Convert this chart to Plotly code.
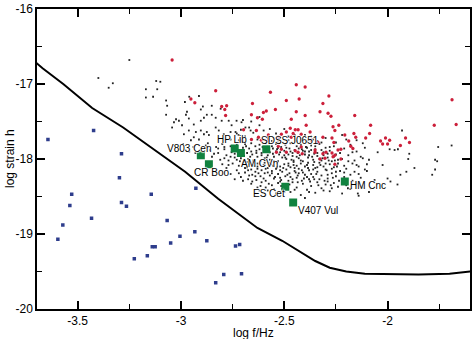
import plotly.graph_objects as go

# Detector sensitivity curve (log f/Hz, log strain h)
curve_f = [-3.70, -3.67, -3.57, -3.43, -3.28, -3.11, -2.98, -2.82, -2.63, -2.51, -2.35, -2.28, -2.20, -2.11, -1.95, -1.85, -1.70, -1.60]
curve_h = [-16.72, -16.79, -17.00, -17.32, -17.58, -17.91, -18.17, -18.53, -18.92, -19.09, -19.36, -19.45, -19.50, -19.53, -19.54, -19.54, -19.53, -19.50]

# Verification binaries (green squares)
source_names = ["V803 Cen", "CR Boo", "HP Lib", "AM CVn", "SDSS J0651", "ES Cet", "V407 Vul", "HM Cnc"]
source_f = [-2.904, -2.865, -2.740, -2.710, -2.587, -2.495, -2.457, -2.207]
source_h = [-17.95, -18.07, -17.86, -17.92, -17.87, -18.37, -18.58, -18.30]
label_f = [-2.962, -2.853, -2.752, -2.618, -2.474, -2.572, -2.337, -2.094]
label_h = [-17.855, -18.184, -17.741, -18.060, -17.750, -18.456, -18.684, -18.355]

# Blue population
blue_points = [(-3.644, -17.74), (-3.423, -17.62), (-3.288, -17.93), (-3.298, -18.25), (-3.529, -18.47),
               (-3.538, -18.62), (-3.572, -18.88), (-3.596, -19.07), (-3.433, -18.79), (-3.288, -18.58),
               (-3.264, -18.63), (-3.144, -18.47), (-3.226, -19.33), (-3.163, -19.29), (-3.139, -19.17),
               (-3.125, -19.17), (-2.928, -18.39), (-3.067, -18.82), (-3.050, -19.12), (-3.005, -19.03),
               (-2.933, -18.97), (-2.875, -19.09), (-2.736, -19.16), (-2.716, -19.14), (-2.793, -19.54),
               (-2.707, -19.53), (-2.832, -19.65)]

# Red population (resolved)
red_points = [(-3.043, -16.68), (-2.952, -17.20), (-2.933, -17.25), (-2.832, -17.09), (-2.803, -17.30),
              (-2.788, -17.34), (-2.779, -17.29), (-2.784, -17.42), (-2.697, -17.61), (-2.654, -17.26),
              (-2.659, -17.41), (-2.630, -17.45), (-2.601, -17.38), (-2.587, -17.36), (-2.606, -17.47),
              (-2.543, -17.34), (-2.567, -17.11), (-2.490, -17.22), (-2.442, -17.01), (-2.399, -17.04),
              (-2.428, -17.20), (-2.442, -17.37), (-2.466, -17.47), (-2.471, -17.59), (-2.447, -17.61),
              (-2.433, -17.61), (-2.490, -17.64), (-2.635, -17.62), (-2.659, -17.74), (-2.625, -17.71),
              (-2.577, -17.68), (-2.529, -17.71), (-2.514, -17.67), (-2.466, -17.71), (-2.418, -17.67),
              (-2.538, -17.91), (-2.514, -17.87), (-2.433, -17.91), (-2.413, -17.93), (-2.351, -17.91),
              (-2.284, -17.16), (-2.313, -17.26), (-2.327, -17.37), (-2.288, -17.39), (-2.274, -17.43),
              (-2.264, -17.57), (-2.255, -17.62), (-2.236, -17.55), (-2.159, -17.42), (-2.313, -17.71),
              (-2.337, -17.78), (-2.269, -17.72), (-2.260, -17.78), (-2.207, -17.68), (-2.188, -17.76),
              (-2.163, -17.66), (-2.154, -17.71), (-2.178, -17.83), (-2.168, -17.86), (-2.106, -17.72),
              (-2.087, -17.66), (-2.082, -17.55), (-2.034, -17.76), (-2.024, -17.80), (-2.010, -17.72),
              (-2.000, -17.80), (-1.990, -17.75), (-1.938, -17.82), (-1.913, -17.72), (-1.894, -17.78),
              (-1.774, -17.55), (-1.688, -17.21), (-1.668, -17.54), (-2.298, -17.91), (-2.269, -17.92),
              (-2.226, -17.87), (-2.303, -17.99), (-2.327, -18.00), (-2.240, -17.88), (-2.264, -17.97),
              (-2.226, -18.00), (-2.255, -18.07), (-2.529, -17.83), (-2.490, -17.91), (-2.447, -17.89),
              (-2.418, -17.84), (-2.351, -17.88), (-2.313, -17.93), (-2.255, -17.95), (-2.611, -17.75),
              (-2.577, -17.75), (-2.707, -17.75), (-2.370, -17.75), (-2.399, -17.42), (-2.394, -17.55),
              (-2.457, -17.66), (-2.375, -17.64)]

# Black population (unresolved)
black_points = [
    (-3.25, -16.68), (-3.40, -16.92), (-3.33, -16.99), (-3.35, -17.05), (-3.17, -17.07), (-3.17, -17.18),
    (-3.12, -16.96), (-3.10, -16.97), (-3.115, -17.07), (-3.135, -17.17), (-3.072, -17.22), (-3.067, -17.29),
    (-2.981, -17.24), (-2.913, -17.16), (-2.851, -17.29), (-2.894, -17.30), (-2.904, -17.34), (-2.971, -17.37),
    (-2.976, -17.41), (-2.962, -17.46), (-3.072, -17.41), (-3.024, -17.47), (-3.034, -17.51), (-3.010, -17.49),
    (-2.995, -17.55), (-2.938, -17.54), (-2.904, -17.49), (-2.875, -17.41), (-2.851, -17.41), (-2.889, -17.45),
    (-2.832, -17.45), (-2.808, -17.33), (-2.803, -17.49), (-2.769, -17.49), (-2.755, -17.55), (-2.731, -17.49),
    (-2.707, -17.51), (-2.688, -17.58), (-2.663, -17.62), (-3.043, -17.58), (-2.962, -17.62), (-2.928, -17.64),
    (-2.904, -17.62), (-2.889, -17.67), (-2.875, -17.64), (-2.865, -17.68), (-2.832, -17.58), (-2.817, -17.62),
    (-2.793, -17.67), (-2.760, -17.64), (-2.736, -17.64), (-2.721, -17.68), (-2.938, -17.71), (-2.913, -17.74),
    (-2.784, -17.74), (-2.760, -17.74), (-2.986, -17.67), (-2.952, -17.75), (-2.96, -17.17),
    (-2.73, -17.66), (-2.71, -17.61), (-2.69, -17.70), (-2.67, -17.58), (-2.65, -17.65), (-2.63, -17.74),
    (-2.60, -17.62), (-2.58, -17.70), (-2.56, -17.76), (-2.54, -17.66), (-2.52, -17.72), (-2.50, -17.60),
    (-2.48, -17.75), (-2.45, -17.68), (-2.42, -17.73), (-2.39, -17.77), (-2.37, -17.70), (-2.34, -17.76),
    (-2.72, -17.75), (-2.69, -17.78), (-2.62, -17.55), (-2.57, -17.60), (-2.30, -17.72), (-2.22, -17.68),
    (-2.15, -17.75), (-2.70, -17.48), (-2.66, -17.50), (-2.62, -17.44),
    (-2.99, -17.80), (-2.96, -17.90), (-2.94, -17.84), (-2.88, -17.82), (-2.86, -17.88), (-2.85, -17.97),
    (-2.83, -17.84), (-2.82, -17.92), (-2.81, -18.01), (-2.80, -17.80), (-2.79, -17.87), (-2.78, -17.95),
    (-2.77, -18.02), (-2.76, -17.83), (-2.755, -17.91), (-2.74, -17.98), (-2.73, -17.81), (-2.72, -17.88),
    (-2.715, -18.03), (-2.70, -17.85), (-2.695, -17.96), (-2.69, -17.80), (-2.68, -17.92), (-2.675, -18.00),
    (-2.67, -17.86), (-2.66, -17.79), (-2.655, -17.94), (-2.65, -18.02), (-2.64, -17.83), (-2.635, -17.89),
    (-2.63, -17.97), (-2.62, -17.81), (-2.615, -18.03), (-2.61, -17.92), (-2.60, -17.86), (-2.595, -17.99),
    (-2.59, -17.79), (-2.58, -17.95), (-2.575, -17.88), (-2.57, -18.01), (-2.56, -17.83), (-2.555, -17.93),
    (-2.55, -17.97), (-2.54, -17.80), (-2.535, -17.87), (-2.53, -18.03), (-2.52, -17.91), (-2.515, -17.84),
    (-2.51, -17.98), (-2.50, -17.89), (-2.495, -17.81), (-2.49, -18.00), (-2.48, -17.94), (-2.475, -17.86),
    (-2.47, -17.79), (-2.46, -17.96), (-2.455, -18.02), (-2.45, -17.88), (-2.44, -17.83), (-2.435, -17.92),
    (-2.43, -17.99), (-2.42, -17.81), (-2.415, -17.87), (-2.41, -18.03), (-2.40, -17.94), (-2.39, -17.85),
    (-2.385, -17.98), (-2.38, -17.90), (-2.37, -17.82), (-2.36, -18.01), (-2.355, -17.93), (-2.35, -17.87),
    (-2.34, -17.96), (-2.33, -17.80), (-2.32, -18.02), (-2.31, -17.91), (-2.30, -17.85), (-2.29, -17.98),
    (-2.28, -17.89), (-2.27, -18.03), (-2.26, -17.83), (-2.25, -17.94), (-2.24, -17.88), (-2.22, -18.00),
    (-2.21, -17.86), (-2.19, -17.95), (-2.18, -17.81), (-2.16, -18.02), (-2.15, -17.90), (-2.13, -17.97),
    (-2.11, -17.85), (-2.09, -18.01),
    (-2.80, -18.07), (-2.78, -18.12), (-2.76, -18.20), (-2.75, -18.06), (-2.73, -18.15), (-2.72, -18.09),
    (-2.71, -18.24), (-2.70, -18.05), (-2.69, -18.18), (-2.68, -18.11), (-2.675, -18.27), (-2.67, -18.07),
    (-2.66, -18.14), (-2.655, -18.21), (-2.65, -18.04), (-2.64, -18.17), (-2.635, -18.28), (-2.63, -18.10),
    (-2.62, -18.06), (-2.615, -18.23), (-2.61, -18.15), (-2.60, -18.08), (-2.595, -18.19), (-2.59, -18.29),
    (-2.58, -18.12), (-2.575, -18.05), (-2.57, -18.22), (-2.56, -18.16), (-2.555, -18.09), (-2.55, -18.26),
    (-2.54, -18.13), (-2.535, -18.05), (-2.53, -18.20), (-2.52, -18.10), (-2.515, -18.28), (-2.51, -18.17),
    (-2.50, -18.07), (-2.495, -18.23), (-2.49, -18.14), (-2.48, -18.06), (-2.475, -18.19), (-2.47, -18.11),
    (-2.46, -18.27), (-2.455, -18.04), (-2.45, -18.16), (-2.44, -18.09), (-2.435, -18.22), (-2.43, -18.13),
    (-2.42, -18.06), (-2.415, -18.29), (-2.41, -18.18), (-2.40, -18.10), (-2.39, -18.24), (-2.385, -18.05),
    (-2.38, -18.15), (-2.37, -18.20), (-2.36, -18.08), (-2.355, -18.27), (-2.35, -18.12), (-2.34, -18.17),
    (-2.33, -18.05), (-2.32, -18.22), (-2.31, -18.10), (-2.30, -18.14), (-2.29, -18.26), (-2.28, -18.07),
    (-2.27, -18.19), (-2.26, -18.11), (-2.25, -18.23), (-2.24, -18.06), (-2.23, -18.16), (-2.22, -18.28),
    (-2.21, -18.09), (-2.20, -18.13), (-2.18, -18.21), (-2.17, -18.06), (-2.16, -18.17), (-2.14, -18.10),
    (-2.13, -18.25), (-2.11, -18.14), (-2.10, -18.07),
    (-2.66, -18.33), (-2.63, -18.38), (-2.61, -18.31), (-2.58, -18.42), (-2.56, -18.35), (-2.54, -18.46),
    (-2.53, -18.32), (-2.51, -18.40), (-2.49, -18.34), (-2.47, -18.44), (-2.46, -18.31), (-2.44, -18.38),
    (-2.42, -18.48), (-2.41, -18.33), (-2.39, -18.41), (-2.37, -18.36), (-2.35, -18.45), (-2.34, -18.31),
    (-2.32, -18.39), (-2.30, -18.34), (-2.28, -18.43), (-2.26, -18.32), (-2.24, -18.37), (-2.22, -18.46),
    (-2.20, -18.35), (-2.18, -18.40), (-2.15, -18.33), (-2.12, -18.38), (-2.09, -18.44),
    (-2.14, -18.49), (-2.40, -18.52),
    (-2.79, -17.84), (-2.74, -17.93), (-2.71, -17.99), (-2.68, -18.04), (-2.66, -17.90), (-2.63, -18.06),
    (-2.61, -17.95), (-2.59, -18.13), (-2.57, -17.91), (-2.55, -18.03), (-2.53, -17.85), (-2.52, -18.15),
    (-2.50, -17.95), (-2.48, -18.09), (-2.47, -17.90), (-2.45, -18.12), (-2.44, -17.97), (-2.42, -18.02),
    (-2.41, -17.89), (-2.39, -18.08), (-2.38, -17.95), (-2.36, -18.14), (-2.35, -17.83), (-2.33, -18.00),
    (-2.32, -17.88), (-2.30, -18.06), (-2.29, -17.93), (-2.27, -18.13), (-2.26, -17.97), (-2.24, -18.01),
    (-2.23, -17.92), (-2.21, -18.18), (-2.19, -18.03), (-2.17, -17.91), (-2.15, -18.08), (-2.12, -17.99),
    (-2.10, -18.16), (-2.62, -17.87), (-2.58, -17.84),
    (-2.54, -17.90), (-2.49, -17.85), (-2.46, -17.92), (-2.43, -17.86), (-2.40, -17.90), (-2.37, -17.88),
    (-2.34, -17.92), (-2.31, -17.95), (-2.28, -17.84), (-2.64, -18.23), (-2.60, -18.26), (-2.56, -18.19),
    (-2.52, -18.25), (-2.48, -18.29), (-2.44, -18.25), (-2.40, -18.21), (-2.36, -18.24), (-2.33, -18.27),
    (-2.29, -18.21), (-2.25, -18.17), (-2.21, -18.24), (-2.17, -18.29), (-2.14, -18.20), (-2.70, -17.93),
    (-2.73, -18.01), (-2.76, -17.97), (-2.69, -18.12), (-2.72, -18.19), (-2.58, -17.72), (-2.53, -17.78),
    (-2.48, -17.70), (-2.44, -17.76), (-2.40, -17.68), (-2.36, -17.74), (-2.32, -17.78), (-2.27, -17.72),
    (-2.25, -17.78), (-2.20, -17.74), (-2.12, -17.79),
    (-2.685, -17.83), (-2.665, -17.97), (-2.645, -18.09), (-2.625, -18.19), (-2.605, -17.84), (-2.585, -17.98),
    (-2.565, -18.07), (-2.545, -18.24), (-2.525, -17.94), (-2.505, -18.12), (-2.485, -18.21), (-2.465, -18.01),
    (-2.445, -18.18), (-2.425, -17.95), (-2.405, -18.26), (-2.385, -18.12), (-2.365, -17.97), (-2.345, -18.20),
    (-2.325, -18.08), (-2.305, -18.29), (-2.285, -18.02), (-2.265, -18.25), (-2.245, -18.10), (-2.675, -18.15),
    (-2.655, -18.30), (-2.635, -17.92), (-2.615, -18.36), (-2.595, -18.05), (-2.575, -18.33), (-2.555, -17.86),
    (-2.535, -18.11), (-2.515, -18.36), (-2.495, -17.98), (-2.475, -18.34), (-2.455, -18.08), (-2.435, -18.31),
    (-2.415, -18.15), (-2.395, -17.84), (-2.375, -18.30), (-2.355, -18.04), (-2.335, -18.35), (-2.315, -17.99),
    (-2.295, -18.15), (-2.275, -18.35), (-2.255, -18.02), (-2.235, -18.29), (-2.59, -18.38), (-2.55, -18.40),
    (-2.50, -18.44), (-2.45, -18.41), (-2.38, -18.44), (-2.31, -18.42), (-2.27, -18.39), (-2.62, -18.42),
    (-2.52, -18.30), (-2.47, -18.24), (-2.43, -18.19), (-2.38, -18.27), (-2.34, -18.11), (-2.29, -18.30),
    (-2.58, -18.18), (-2.63, -18.13), (-2.67, -18.22), (-2.70, -18.29), (-2.74, -18.27), (-2.77, -18.08),
    (-2.79, -17.99), (-2.82, -17.86), (-2.84, -17.93), (-2.87, -17.79), (-2.90, -17.86), (-2.93, -17.92),
    (-1.93, -17.62), (-1.755, -17.84), (-1.76, -18.03), (-1.69, -17.82), (-1.77, -18.14), (-1.90, -18.00),
    (-1.895, -17.93), (-1.95, -17.87), (-1.99, -17.87), (-1.87, -18.12), (-1.909, -18.17), (-1.938, -18.21),
    (-1.952, -18.34), (-1.986, -18.30), (-2.00, -18.26), (-1.77, -18.01), (-1.784, -18.21), (-1.966, -17.88),
    (-2.048, -17.91), (-2.024, -18.08), (-2.063, -18.28), (-2.082, -18.39), (-2.13, -18.37), (-2.144, -18.46),
    (-2.192, -18.39)]

x_tickvals = [-3.5, -3.0, -2.5, -2.0]
x_ticktext = ["-3.5", "-3", "-2.5", "-2"]
y_tickvals = [-20, -19, -18, -17, -16]
y_ticktext = ["-20", "-19", "-18", "-17", "-16"]

FONT = "Liberation Sans, Arial, sans-serif"

fig = go.Figure()
fig.add_trace(go.Scatter(x=curve_f, y=curve_h, mode="lines", line=dict(color="black", width=2), hoverinfo="skip"))
fig.add_trace(go.Scatter(x=[p[0] for p in blue_points], y=[p[1] for p in blue_points], mode="markers",
                         marker=dict(symbol="square", size=3.5, color="#2e3d8c")))
fig.add_trace(go.Scatter(x=[p[0] for p in black_points], y=[p[1] for p in black_points], mode="markers",
                         marker=dict(symbol="square", size=1.8, color="#222222")))
fig.add_trace(go.Scatter(x=[p[0] for p in red_points], y=[p[1] for p in red_points], mode="markers",
                         marker=dict(symbol="circle", size=3.3, color="#cc1f3a")))
fig.add_trace(go.Scatter(x=source_f, y=source_h, mode="markers",
                         marker=dict(symbol="square", size=8, color="#10823f")))

halo = "1px 0 1px white, -1px 0 1px white, 0 1px 1px white, 0 -1px 1px white"
for name, lf, lh in zip(source_names, label_f, label_h):
    fig.add_annotation(x=lf, y=lh, text=name, showarrow=False, xanchor="center", yanchor="middle",
                       font=dict(family=FONT, size=10, color="black", shadow=halo))

fig.add_annotation(x=0.5, y=0, xref="paper", yref="paper", text="log f/Hz", showarrow=False,
                   xanchor="center", yanchor="middle", yshift=-24, font=dict(family=FONT, size=12, color="black"))
fig.add_annotation(x=0, y=0.5, xref="paper", yref="paper", text="log strain h", showarrow=False, textangle=-90,
                   xanchor="center", yanchor="middle", xshift=-27, font=dict(family=FONT, size=12, color="black"))

axis_common = dict(showgrid=False, zeroline=False, showline=True, linecolor="black", linewidth=1.5,
                   mirror="ticks", ticks="inside", tickcolor="black", tickwidth=1.5, ticklen=8,
                   ticklabeloverflow="allow",
                   tickfont=dict(family=FONT, size=12, color="black"))
fig.update_xaxes(range=[-3.697, -1.601], tickvals=x_tickvals, ticktext=x_ticktext,
                 minor=dict(ticks="inside", ticklen=5, tickwidth=1.2, tickcolor="black", dtick=0.25, tick0=-3.5),
                 **axis_common)
fig.update_yaxes(range=[-20, -16], tickvals=y_tickvals, ticktext=y_ticktext,
                 minor=dict(ticks="inside", ticklen=5, tickwidth=1.2, tickcolor="black", dtick=0.5, tick0=-20),
                 **axis_common)
fig.update_layout(width=474, height=339, margin=dict(l=37, r=2, t=5, b=30),
                  plot_bgcolor="white", paper_bgcolor="white", showlegend=False)
fig.write_html("out.html")
